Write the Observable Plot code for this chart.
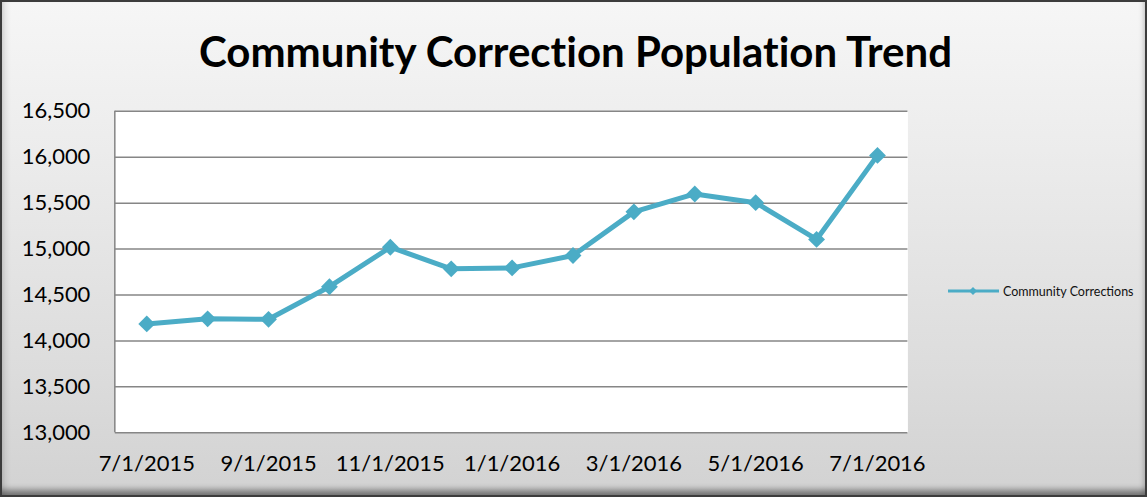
<!DOCTYPE html>
<html><head><meta charset="utf-8">
<script src="https://cdn.jsdelivr.net/npm/d3@7"></script>
<script src="https://cdn.jsdelivr.net/npm/@observablehq/plot@0.6"></script>
<style>
html,body{margin:0;padding:0;background:#fff;}
#wrap{position:relative;width:1147px;height:497px;box-sizing:border-box;border:2px solid #3c3c3c;
  background:linear-gradient(180deg,#f6f6f6 0%,#ececec 30%,#dcdcdc 75%,#d2d2d2 100%);
  box-shadow: inset 0 -9px 6px -4px rgba(0,0,0,0.45), inset 8px 0 6px -5px rgba(0,0,0,0.12), inset -6px 0 5px -4px rgba(0,0,0,0.15);
  overflow:hidden;font-family:Lato,"Open Sans",sans-serif;}
#title{position:absolute;left:0;width:1147px;top:24px;text-align:center;font-weight:bold;font-size:42px;color:#000;font-variant-ligatures:none;}
#chart{position:absolute;left:-2px;top:-2px;}
#legend{position:absolute;left:944px;top:279px;display:flex;align-items:center;font-size:12.5px;color:#111;}
</style></head>
<body>
<div id="wrap">
  <div id="chart"></div>
  <div id="title">Community Correction Population Trend</div>
  <div id="legend"><svg width="56" height="20" style="margin-right:1px"><line x1="2" x2="53" y1="10" y2="10" stroke="#4bacc6" stroke-width="3"/><path d="M27 6 L31 10 L27 14 L23 10Z" fill="#4bacc6"/></svg><span>Community Corrections</span></div>
</div>
<script>
const months = ["7/1/2015","8/1/2015","9/1/2015","10/1/2015","11/1/2015","12/1/2015","1/1/2016","2/1/2016","3/1/2016","4/1/2016","5/1/2016","6/1/2016","7/1/2016"];
const population = [14185,14240,14235,14590,15020,14785,14795,14930,15405,15600,15505,15105,16020];
const xTickLabels = ["7/1/2015","9/1/2015","11/1/2015","1/1/2016","3/1/2016","5/1/2016","7/1/2016"];
const yTicks = [13000,13500,14000,14500,15000,15500,16000,16500];
const seriesName = "Community Corrections";

const data = months.map((m,i)=>({month:m, value:population[i], series:seriesName}));
const color = "#4bacc6";

const leftBorder = (index, scales, values, dim) => {
  const ns = "http://www.w3.org/2000/svg";
  const l = document.createElementNS(ns,"line");
  l.setAttribute("x1", dim.marginLeft); l.setAttribute("x2", dim.marginLeft);
  l.setAttribute("y1", dim.marginTop); l.setAttribute("y2", dim.height - dim.marginBottom);
  l.setAttribute("stroke", "#868686"); l.setAttribute("stroke-width", "1.5");
  return l;
};

const chart = Plot.plot({
  width: 1147,
  height: 497,
  marginLeft: 115,
  marginRight: 238,
  marginTop: 111,
  marginBottom: 64,
  style: {background: "transparent", fontFamily: "Lato, 'Open Sans', sans-serif", color: "#000"},
  x: {type: "band", domain: months, padding: 0, align: 0.5, label: null},
  y: {domain: [13000, 16500], label: null},
  marks: [
    Plot.frame({fill: "white", stroke: null}),
    Plot.ruleY(yTicks, {stroke: "#868686", strokeWidth: 1.5}),
    leftBorder,
    Plot.axisY({ticks: yTicks, tickFormat: d3.format(","), tickSize: 0, tickPadding: 25, fontSize: 22, label: null}),
    Plot.axisX({ticks: xTickLabels, tickSize: 0, tickPadding: 23, fontSize: 22, label: null}),
    Plot.line(data, {x: "month", y: "value", stroke: color, strokeWidth: 5, curve: "linear"}),
    Plot.dot(data, {x: "month", y: "value", symbol: "diamond2", r: 7.6, fill: color, stroke: null})
  ]
});
document.getElementById("chart").appendChild(chart);
</script>
</body></html>
